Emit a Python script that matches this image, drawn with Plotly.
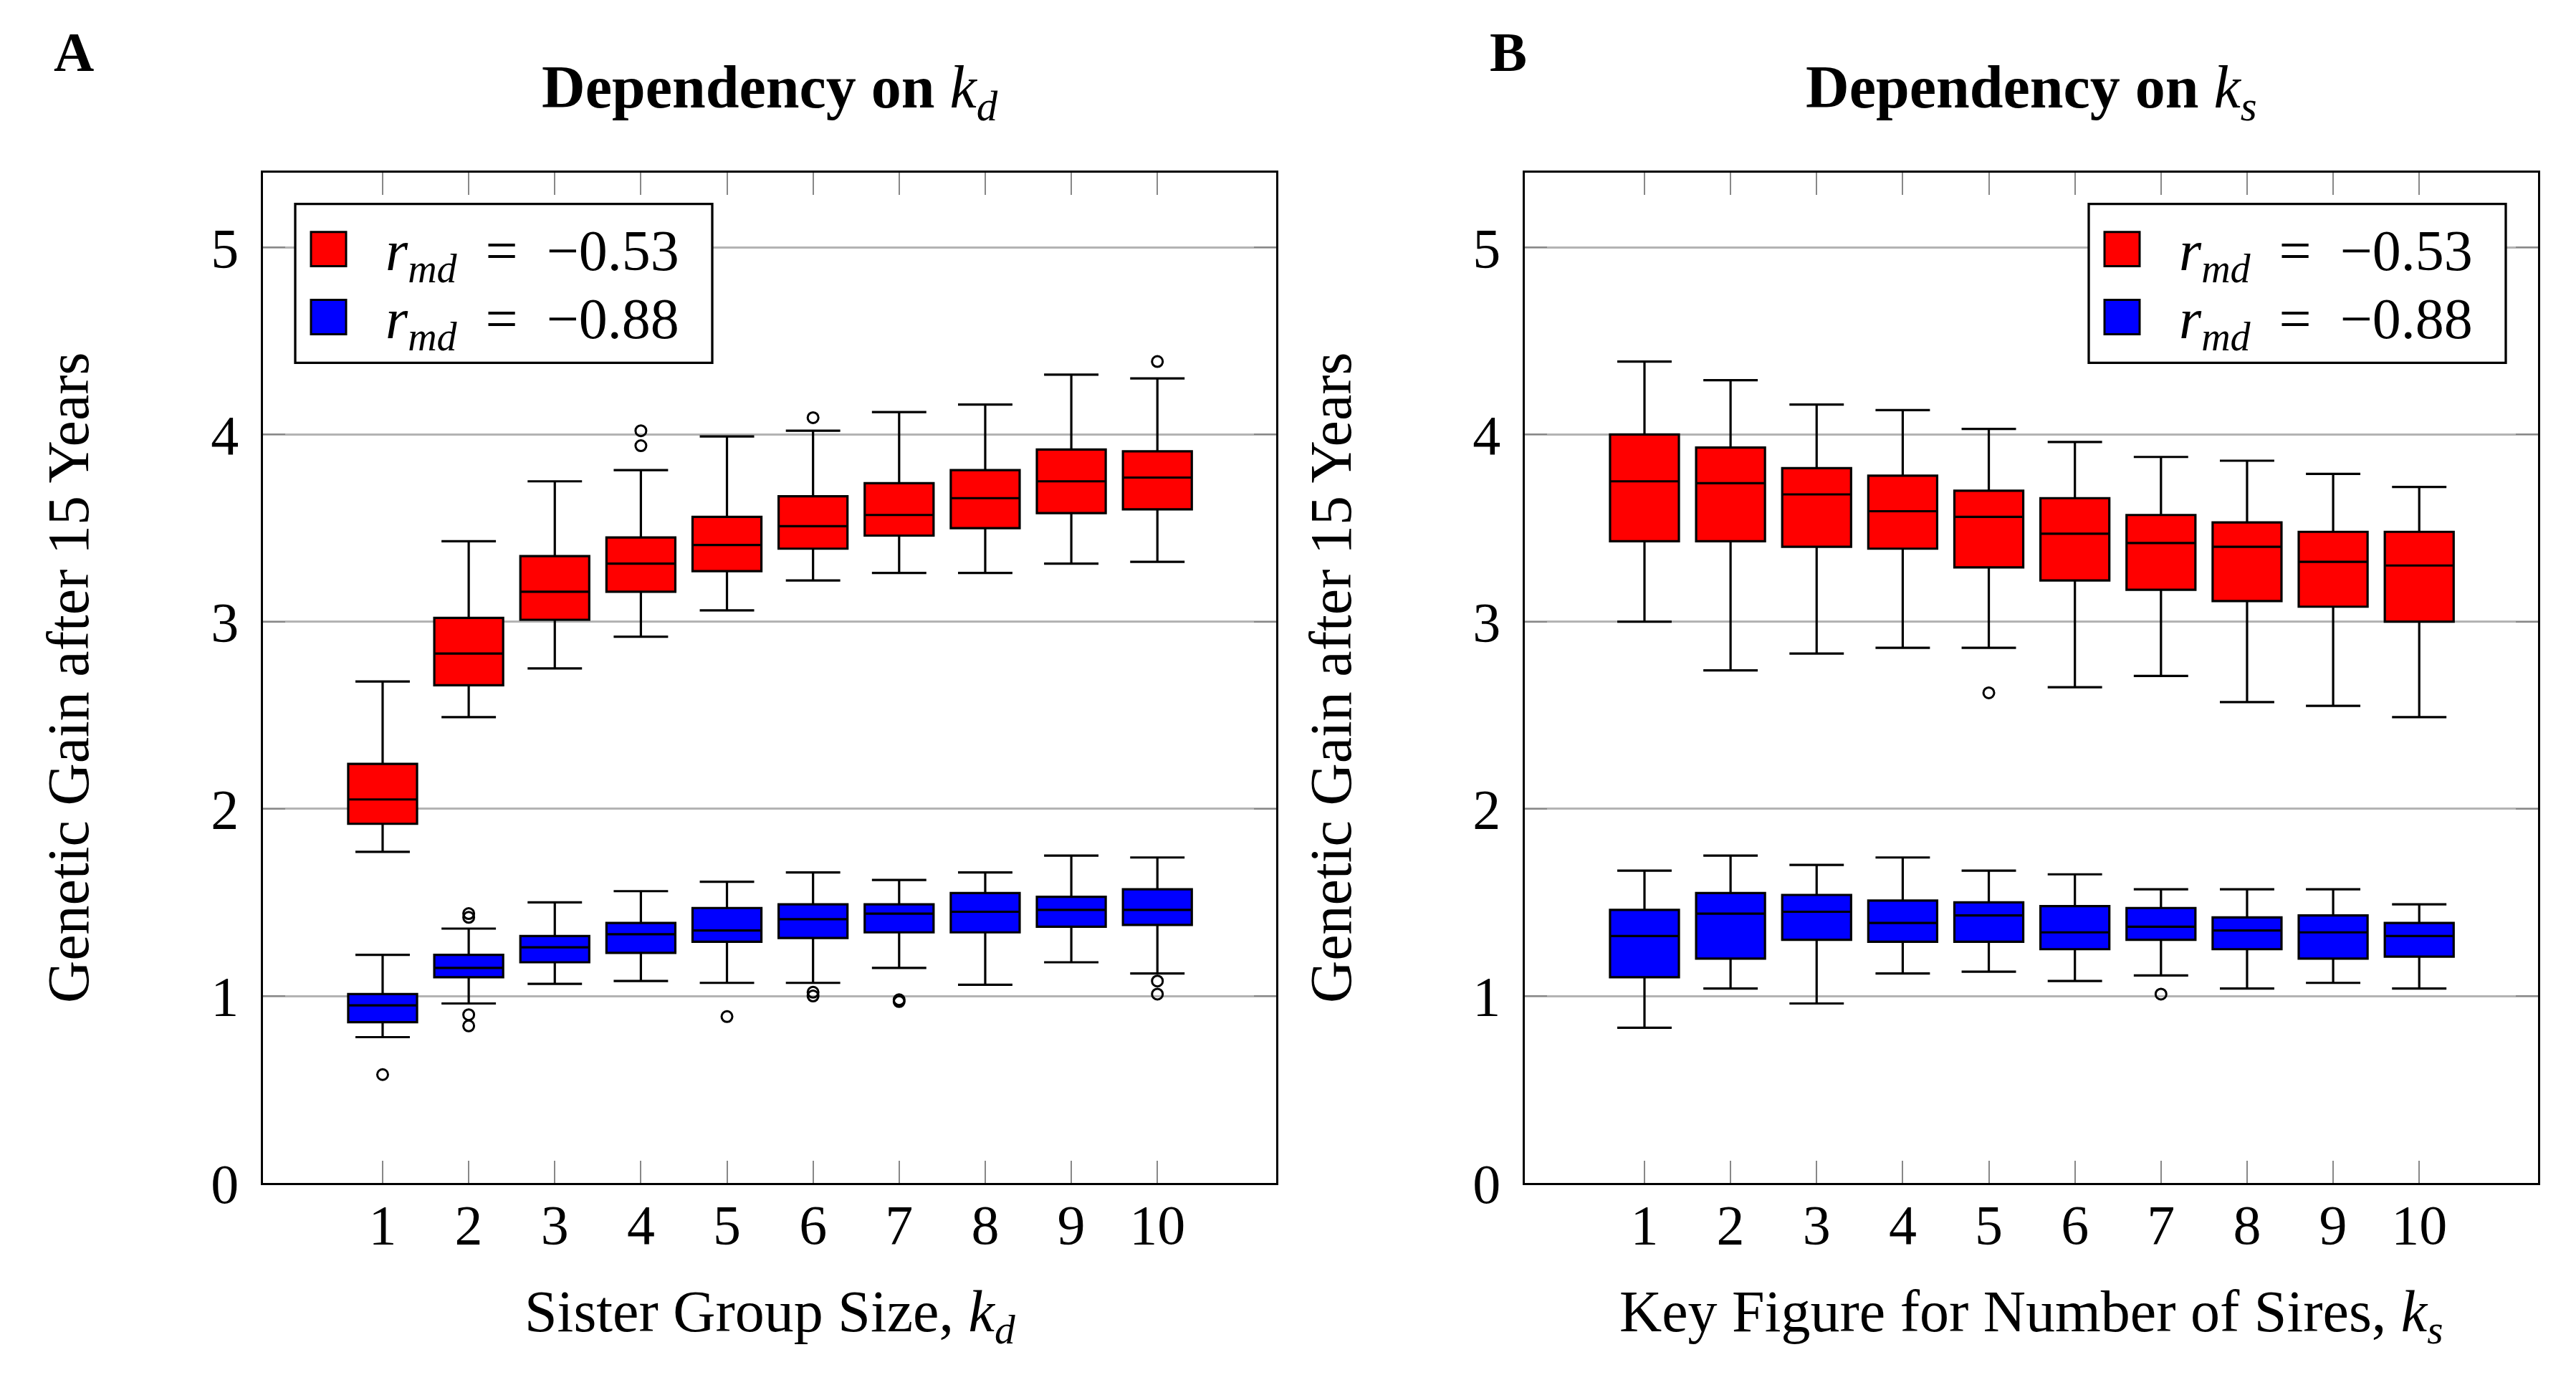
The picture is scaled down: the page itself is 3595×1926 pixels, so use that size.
import plotly.graph_objects as go

W, H = 3595, 1926
HE = 1884  # effective rendered paper height observed in the output picture
FONT = "Liberation Serif"

positions = [1, 2, 3, 4, 5, 6, 7, 8, 9, 10]

# Panel A: dependency on k_d  (red: r_md = -0.53, blue: r_md = -0.88)
a_red_low = [1.77, 2.49, 2.75, 2.92, 3.06, 3.22, 3.26, 3.26, 3.31, 3.32]
a_red_q1 = [1.92, 2.66, 3.01, 3.16, 3.27, 3.39, 3.46, 3.50, 3.58, 3.60]
a_red_med = [2.05, 2.83, 3.16, 3.31, 3.41, 3.51, 3.57, 3.66, 3.75, 3.77]
a_red_q3 = [2.24, 3.02, 3.35, 3.45, 3.56, 3.67, 3.74, 3.81, 3.92, 3.91]
a_red_high = [2.68, 3.43, 3.75, 3.81, 3.99, 4.02, 4.12, 4.16, 4.32, 4.30]
a_red_out_x = [4, 4, 6, 10]
a_red_out_y = [4.02, 3.94, 4.09, 4.39]

a_blue_low = [0.78, 0.96, 1.065, 1.08, 1.07, 1.07, 1.15, 1.06, 1.18, 1.12]
a_blue_q1 = [0.86, 1.10, 1.18, 1.23, 1.29, 1.31, 1.34, 1.34, 1.37, 1.38]
a_blue_med = [0.95, 1.15, 1.26, 1.33, 1.35, 1.41, 1.44, 1.45, 1.46, 1.46]
a_blue_q3 = [1.01, 1.22, 1.32, 1.39, 1.47, 1.49, 1.49, 1.55, 1.53, 1.57]
a_blue_high = [1.22, 1.36, 1.50, 1.56, 1.61, 1.66, 1.62, 1.66, 1.75, 1.74]
a_blue_out_x = [1, 2, 2, 2, 2, 5, 6, 6, 7, 7, 10, 10]
a_blue_out_y = [0.58, 1.44, 1.42, 0.90, 0.84, 0.89, 1.02, 1.00, 0.98, 0.97, 1.08, 1.01]

# Panel B: dependency on k_s
b_red_low = [3.00, 2.74, 2.83, 2.86, 2.86, 2.65, 2.71, 2.57, 2.55, 2.49]
b_red_q1 = [3.43, 3.43, 3.40, 3.39, 3.29, 3.22, 3.17, 3.11, 3.08, 3.00]
b_red_med = [3.75, 3.74, 3.68, 3.59, 3.56, 3.47, 3.42, 3.40, 3.32, 3.30]
b_red_q3 = [4.00, 3.93, 3.82, 3.78, 3.70, 3.66, 3.57, 3.53, 3.48, 3.48]
b_red_high = [4.39, 4.29, 4.16, 4.13, 4.03, 3.96, 3.88, 3.86, 3.79, 3.72]
b_red_out_x = [5]
b_red_out_y = [2.62]

b_blue_low = [0.83, 1.04, 0.96, 1.12, 1.13, 1.08, 1.11, 1.04, 1.07, 1.04]
b_blue_q1 = [1.10, 1.20, 1.30, 1.29, 1.29, 1.25, 1.30, 1.25, 1.20, 1.21]
b_blue_med = [1.32, 1.44, 1.45, 1.39, 1.43, 1.34, 1.37, 1.35, 1.34, 1.32]
b_blue_q3 = [1.46, 1.55, 1.54, 1.51, 1.50, 1.48, 1.47, 1.42, 1.43, 1.39]
b_blue_high = [1.67, 1.75, 1.70, 1.74, 1.67, 1.65, 1.57, 1.57, 1.57, 1.49]
b_blue_out_x = [7]
b_blue_out_y = [1.01]

x_ticks = [1, 2, 3, 4, 5, 6, 7, 8, 9, 10]
x_tick_labels = ["1", "2", "3", "4", "5", "6", "7", "8", "9", "10"]
y_ticks = [0, 1, 2, 3, 4, 5]
y_tick_labels = ["0", "1", "2", "3", "4", "5"]

series_names = ["<i>r</i><sub><i>md</i></sub>\u00a0\u00a0=\u00a0\u00a0\u22120.53",
                "<i>r</i><sub><i>md</i></sub>\u00a0\u00a0=\u00a0\u00a0\u22120.88"]
RED = "#ff0000"
BLUE = "#0000ff"


def px(x):
    return x / W


def py(y):
    return 1 - y / HE


fig = go.Figure()


def add_box(xa, ya, low, q1, med, q3, high, color, name):
    fig.add_trace(go.Box(
        x=positions, q1=q1, median=med, q3=q3, lowerfence=low, upperfence=high,
        xaxis=xa, yaxis=ya, name=name, fillcolor=color,
        line=dict(color="black", width=3.2), width=0.8, whiskerwidth=0.79,
        boxpoints=False, showlegend=False, hoverinfo="skip",
    ))


def add_out(xa, ya, xs, ys):
    fig.add_trace(go.Scatter(
        x=xs, y=ys, xaxis=xa, yaxis=ya, mode="markers", showlegend=False,
        marker=dict(symbol="circle-open", size=15, color="black", line=dict(width=3)),
        hoverinfo="skip",
    ))


add_box("x", "y", a_red_low, a_red_q1, a_red_med, a_red_q3, a_red_high, RED, series_names[0])
add_box("x", "y", a_blue_low, a_blue_q1, a_blue_med, a_blue_q3, a_blue_high, BLUE, series_names[1])
add_out("x", "y", a_red_out_x, a_red_out_y)
add_out("x", "y", a_blue_out_x, a_blue_out_y)
add_box("x2", "y2", b_red_low, b_red_q1, b_red_med, b_red_q3, b_red_high, RED, series_names[0])
add_box("x2", "y2", b_blue_low, b_blue_q1, b_blue_med, b_blue_q3, b_blue_high, BLUE, series_names[1])
add_out("x2", "y2", b_red_out_x, b_red_out_y)
add_out("x2", "y2", b_blue_out_x, b_blue_out_y)

xdomA = [px(367), px(1781)]
xdomB = [px(2128), px(3542)]
ydom = [py(1653), py(241)]

common_x = dict(range=[-0.39, 11.38], tickvals=x_ticks, ticktext=x_tick_labels,
                ticks="inside", ticklen=31, tickwidth=2, tickcolor="#888888",
                showline=True, linecolor="black", linewidth=3.3, mirror="allticks",
                showgrid=False, zeroline=False, ticklabelstandoff=-12,
                tickfont=dict(family=FONT, size=78, color="black"), fixedrange=True)
common_y = dict(range=[0, 5.4], tickvals=y_ticks, ticktext=y_tick_labels,
                ticks="inside", ticklen=31, tickwidth=2, tickcolor="#888888",
                showline=True, linecolor="black", linewidth=3.3, mirror="allticks",
                showgrid=True, gridcolor="#b3b3b3", gridwidth=3, zeroline=False,
                ticklabelstandoff=15,
                tickfont=dict(family=FONT, size=78, color="black"), fixedrange=True)

fig.update_layout(
    width=W, height=H, autosize=False, margin=dict(l=0, r=0, t=0, b=0, pad=0),
    paper_bgcolor="white", plot_bgcolor="white", boxmode="overlay",
    showlegend=False,
    xaxis=dict(domain=xdomA, anchor="y", **common_x),
    yaxis=dict(domain=ydom, anchor="x", **common_y),
    xaxis2=dict(domain=xdomB, anchor="y2", **common_x),
    yaxis2=dict(domain=ydom, anchor="x2", **common_y),
)

annotations = []
shapes = []


def text(x, y, s, size, xanchor="center", yanchor="middle", angle=0):
    annotations.append(dict(x=px(x), y=py(y), xref="paper", yref="paper", text=s,
                            showarrow=False, xanchor=xanchor, yanchor=yanchor,
                            textangle=angle,
                            font=dict(family=FONT, size=size, color="black")))


# panel labels and titles
text(103, 73, "<b>A</b>", 78)
text(2105, 73, "<b>B</b>", 78)
text(1074, 128, "<b>Dependency on</b> <i>k<sub>d</sub></i>", 84)
text(2835, 128, "<b>Dependency on</b> <i>k<sub>s</sub></i>", 84)
# axis titles
text(1074, 1838, "Sister Group Size, <i>k<sub>d</sub></i>", 82)
text(2835, 1838, "Key Figure for Number of Sires, <i>k<sub>s</sub></i>", 82)
text(96, 947, "Genetic Gain after 15 Years", 82, angle=-90)
text(1858, 947, "Genetic Gain after 15 Years", 82, angle=-90)

# legends
for lx in (412, 2915):
    shapes.append(dict(type="rect", xref="paper", yref="paper",
                       x0=px(lx), x1=px(lx + 582), y0=py(507), y1=py(285),
                       line=dict(color="black", width=3.3), fillcolor="white", layer="above"))
    for i, (col, yc) in enumerate(((RED, 348), (BLUE, 443))):
        shapes.append(dict(type="rect", xref="paper", yref="paper",
                           x0=px(lx + 22), x1=px(lx + 71), y0=py(yc + 24), y1=py(yc - 24),
                           line=dict(color="black", width=3), fillcolor=col, layer="above"))
        text(lx + 124, yc + 8, series_names[i], 80, xanchor="left")

fig.update_layout(annotations=annotations, shapes=shapes)
fig.write_html("out.html")
